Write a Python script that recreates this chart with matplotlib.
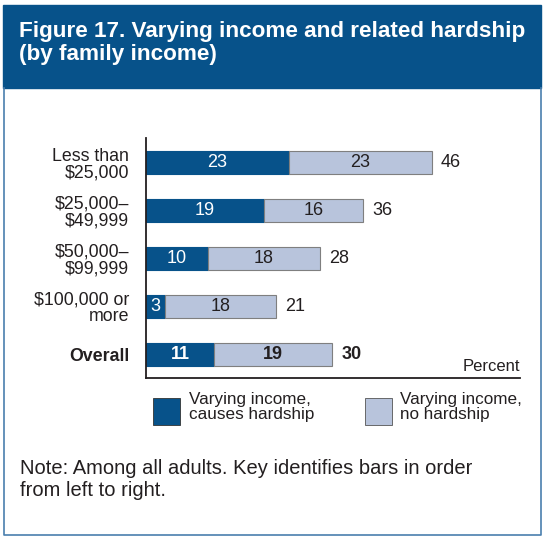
import matplotlib.pyplot as plt
from matplotlib.patches import Rectangle

# Figure 17 data: share of adults with varying income, split by hardship
categories = ["Less than\n$25,000", "$25,000–\n$49,999", "$50,000–\n$99,999",
              "$100,000 or\nmore", "Overall"]
hardship = [23, 19, 10, 3, 11]
no_hardship = [23, 16, 18, 18, 19]
totals = [46, 36, 28, 21, 30]   # published totals (rounded separately)

DARK = "#07528a"
LIGHT = "#b8c4dc"
FRAME = "#4a7fae"
TEXT = "#231f20"

plt.rcParams["font.family"] = ["Liberation Sans Narrow", "Liberation Sans", "DejaVu Sans"]

W, H = 544, 539
fig = plt.figure(figsize=(W / 100, H / 100), dpi=100)


def fx(px):
    return px / W


def fy(py):
    return 1 - py / H


# Header band with title
fig.patches.append(Rectangle((fx(3), fy(88)), fx(541) - fx(3), fy(5) - fy(88),
                             transform=fig.transFigure, color=DARK, zorder=0))
fig.text(fx(19), fy(21), "Figure 17. Varying income and related hardship\n(by family income)",
         color="white", fontsize=16.2, fontweight="bold", va="top", ha="left",
         family=["Liberation Sans", "DejaVu Sans"], linespacing=1.15)

# Thin frame around the body
fig.lines.append(plt.Line2D([fx(3.5), fx(3.5), fx(540.5), fx(540.5)],
                            [fy(88), fy(535), fy(535), fy(88)],
                            transform=fig.transFigure, color=FRAME, lw=1.2))

ax = fig.add_axes([fx(146), fy(378), fx(520) - fx(146), fy(138) - fy(378)])
y = list(range(len(categories)))
ax.barh(y, hardship, height=0.48, color=DARK, edgecolor=DARK, lw=0.8)
ax.barh(y, no_hardship, left=hardship, height=0.48, color=LIGHT, edgecolor="#7f7f7f", lw=0.8)

for i, (a, b, t) in enumerate(zip(hardship, no_hardship, totals)):
    weight = "bold" if categories[i] == "Overall" else "normal"
    ax.text(a / 2, i, str(a), ha="center", va="center", color="white", fontsize=13,
            fontweight=weight)
    ax.text(a + b / 2, i, str(b), ha="center", va="center", color=TEXT, fontsize=13,
            fontweight=weight)
    # total sits just past the end of the stacked bar
    ax.annotate(str(t), (a + b, i), xytext=(6.5, 0), textcoords="offset points",
                ha="left", va="center", color=TEXT, fontsize=13, fontweight=weight)

ax.set_xlim(0, 60.2)
ax.set_ylim(4.49, -0.52)
ax.set_yticks(y)
ax.set_yticklabels(categories, fontsize=12.8, color=TEXT, linespacing=0.95)
ax.get_yticklabels()[-1].set_fontweight("bold")
ax.tick_params(axis="y", length=0, pad=12)
ax.set_xticks([])
for side in ("top", "right"):
    ax.spines[side].set_visible(False)
for side in ("left", "bottom"):
    ax.spines[side].set_color(TEXT)
    ax.spines[side].set_linewidth(1.3)
ax.text(1.0, 0.015, "Percent", transform=ax.transAxes, ha="right", va="bottom",
        fontsize=12, color=TEXT)

# Legend keys
fig.patches.append(Rectangle((fx(153), fy(425)), fx(27), fy(398) - fy(425),
                             transform=fig.transFigure, facecolor=DARK, edgecolor="#333333", lw=0.6))
fig.text(fx(189), fy(392), "Varying income,\ncauses hardship", fontsize=12.3, color=TEXT,
         va="top", ha="left", linespacing=1.02)
fig.patches.append(Rectangle((fx(365), fy(425)), fx(27), fy(398) - fy(425),
                             transform=fig.transFigure, facecolor=LIGHT, edgecolor="#555555", lw=0.6))
fig.text(fx(400), fy(392), "Varying income,\nno hardship", fontsize=12.3, color=TEXT,
         va="top", ha="left", linespacing=1.02)

fig.text(fx(20), fy(459), "Note: Among all adults. Key identifies bars in order\nfrom left to right.",
         fontsize=14.5, color=TEXT, va="top", ha="left", linespacing=1.2)

fig.savefig("out.png", dpi=100)
